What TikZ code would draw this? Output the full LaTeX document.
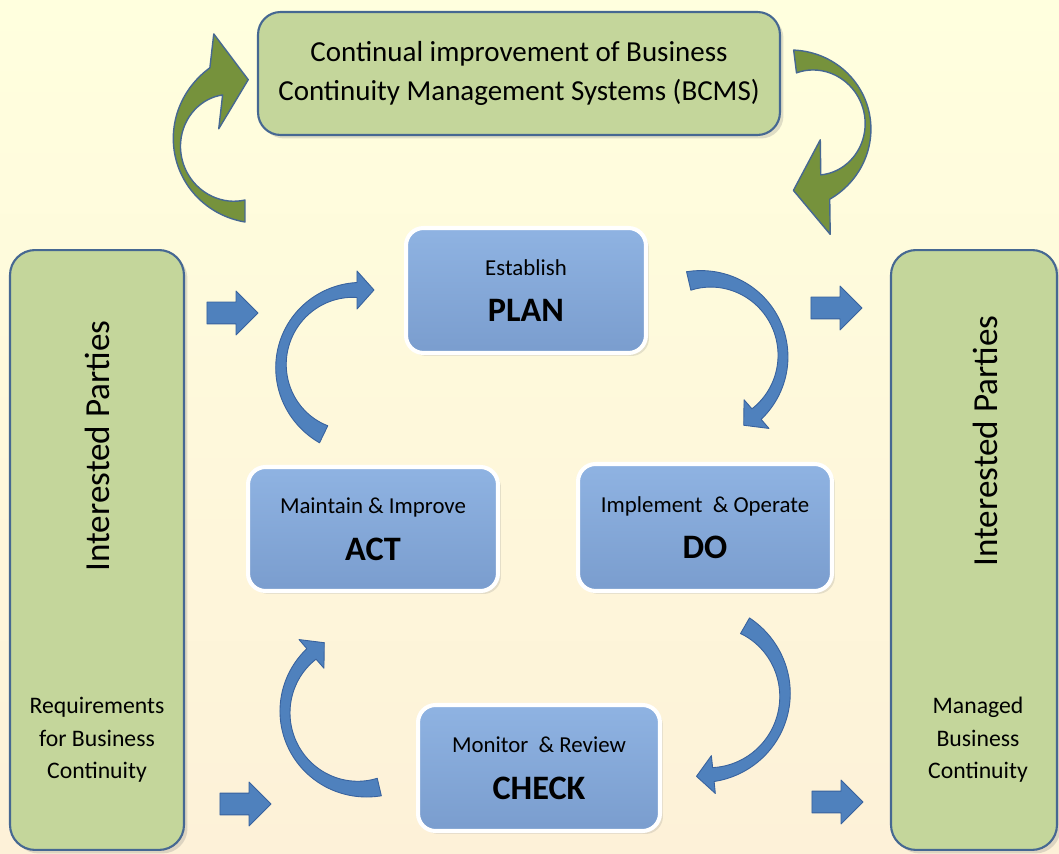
\documentclass[tikz,border=0pt]{standalone}
\usepackage{fontspec}
\setmainfont{Carlito}
\usetikzlibrary{shapes.arrows,shadows}

\definecolor{bgtop}{RGB}{255,255,222}
\definecolor{bgmid}{RGB}{255,255,155}
\definecolor{bgbot}{RGB}{253,241,216}
\definecolor{partygreen}{RGB}{196,214,155}
\definecolor{partyedge}{RGB}{70,104,146}
\definecolor{steptop}{RGB}{143,179,226}
\definecolor{stepbot}{RGB}{122,157,206}
\definecolor{arrowblue}{RGB}{79,129,189}
\definecolor{arrowedge}{RGB}{56,98,158}
\definecolor{leafgreen}{RGB}{118,146,60}

\newcommand\partyfont{\fontsize{20}{24}\selectfont}
\newcommand\notefont{\fontsize{13.5}{18.5}\selectfont}
\newcommand\stepfont{\fontsize{19.5}{24}\selectfont\bfseries}
\newcommand\subfont{\mdseries\fontsize{13}{16}\selectfont}

\tikzset{
  tip span/.store in=\tipspan, tip depth/.store in=\tipdepth, tip turn/.store in=\tipturn,
  tip span=38, tip depth=17, tip turn=0,
  partybox/.style={draw=partyedge, line width=1.2pt, fill=partygreen, rounded corners=0.5cm,
    drop shadow={opacity=0.25, shadow xshift=0.07cm, shadow yshift=-0.07cm}},
  stepbox/.style={draw=white, line width=2.3pt, top color=steptop, bottom color=stepbot,
    rounded corners=0.35cm, font=\stepfont, align=center,
    drop shadow={opacity=0.2, shadow xshift=0.06cm, shadow yshift=-0.06cm}},
  bluebend/.style={fill=arrowblue, draw=arrowedge, line width=0.5pt, tip span=38, tip depth=17},
  greenbend/.style={fill=leafgreen, draw=partyedge, line width=0.8pt, tip span=95, tip depth=32},
  flowarrow/.style={single arrow, fill=arrowblue, draw=arrowedge, line width=0.5pt, inner sep=0pt,
    text width=0.6cm, text height=0.21cm, text depth=0.21cm, minimum height=1.02cm,
    single arrow head extend=0.22cm}
}

% bent block arrow: style, centre x, centre y, radius, tail angle, head angle, tail/mid/head widths
\newcommand\bentarrow[9]{%
  \pgfmathsetmacro\bsg{(#6>#5)*2-1}
  \filldraw[#1, declare function={bw(\q)=#7*(1-\q)*(1-2*\q)+4*#8*\q*(1-\q)+#9*\q*(2*\q-1);}]
    plot[samples=40,domain=0:1,smooth,variable=\x]
      ({#2+(#4+bw(\x)/2)*cos(#5+(#6-#5)*\x)},{#3-(#4+bw(\x)/2)*sin(#5+(#6-#5)*\x)})
    -- ({#2+#4*cos(#6)+\tipspan/2*cos(#6+\tipturn)},{#3-#4*sin(#6)-\tipspan/2*sin(#6+\tipturn)})
    -- ({#2+#4*cos(#6)+\tipdepth*cos(#6+\tipturn+\bsg*90)},{#3-#4*sin(#6)-\tipdepth*sin(#6+\tipturn+\bsg*90)})
    -- ({#2+#4*cos(#6)-\tipspan/2*cos(#6+\tipturn)},{#3-#4*sin(#6)+\tipspan/2*sin(#6+\tipturn)})
    -- plot[samples=40,domain=1:0,smooth,variable=\x]
      ({#2+(#4-bw(\x)/2)*cos(#5+(#6-#5)*\x)},{#3-(#4-bw(\x)/2)*sin(#5+(#6-#5)*\x)})
    -- cycle;
}

\begin{document}
\begin{tikzpicture}[x=0.02cm,y=-0.02cm,line join=round]
  \useasboundingbox (0,0) rectangle (1059,854);
  \shade[top color=bgtop, middle color=bgmid, bottom color=bgbot] (0,0) rectangle (1059,854);

  % interested parties
  \node[partybox, minimum width=3.48cm, minimum height=12cm] (needs) at (97,550) {};
  \node[rotate=90, font=\partyfont] (needsname) at (97,446) {Interested Parties};
  \node[align=center, font=\notefont] (needstext) at (97,740) {Requirements\\for Business\\Continuity};
  \node[partybox, minimum width=3.32cm, minimum height=12cm] (gets) at (974,550) {};
  \node[rotate=90, font=\partyfont] (getsname) at (985,441) {Interested Parties};
  \node[align=center, font=\notefont] (getstext) at (978,740) {Managed\\Business\\Continuity};

  % continual improvement
  \node[partybox, rounded corners=0.45cm, minimum width=10.44cm, minimum height=2.46cm, align=center,
    font={\fontsize{16.5}{22.5}\selectfont}] (improve) at (519,73.5)
    {Continual improvement of Business\\Continuity Management Systems (BCMS)};
  \begin{scope}[tip turn=-22]
    \bentarrow{greenbend}{245}{143}{68}{270}{115}{22}{6}{30}
  \end{scope}
  \begin{scope}[tip turn=-14]
    \bentarrow{greenbend}{803}{126}{65}{97}{-70}{23}{5}{26}
  \end{scope}

  % PDCA cycle
  \node[stepbox, minimum width=4.8cm, minimum height=2.5cm] (plan) at (526,290.5)
    {{\subfont Establish}\\[2.5pt]PLAN};
  \node[stepbox, minimum width=5.08cm, minimum height=2.54cm] (do) at (705,527.5)
    {{\subfont Implement \ \& Operate}\\[2.5pt]DO};
  \node[stepbox, minimum width=4.84cm, minimum height=2.52cm] (check) at (539,768)
    {{\subfont Monitor \ \& Review}\\[2.5pt]CHECK};
  \node[stepbox, minimum width=5cm, minimum height=2.48cm] (act) at (373,529)
    {{\subfont Maintain \& Improve}\\[2.5pt]ACT};

  \bentarrow{bluebend}{357}{366}{76}{244}{90}{19}{10}{15}
  \bentarrow{bluebend}{706}{356}{77}{103}{-49}{19}{10}{14}
  \bentarrow{bluebend}{705}{695}{80}{60}{-84}{18}{10}{14}
  \bentarrow{bluebend}{362}{712}{77}{283}{131}{18}{10}{14}

  % inputs and outputs
  \node[flowarrow] (inplan) at (227,313) {};
  \node[flowarrow] (incheck) at (240,804) {};
  \node[flowarrow] (outplan) at (831,308) {};
  \node[flowarrow] (outcheck) at (832,802) {};
\end{tikzpicture}
\end{document}
